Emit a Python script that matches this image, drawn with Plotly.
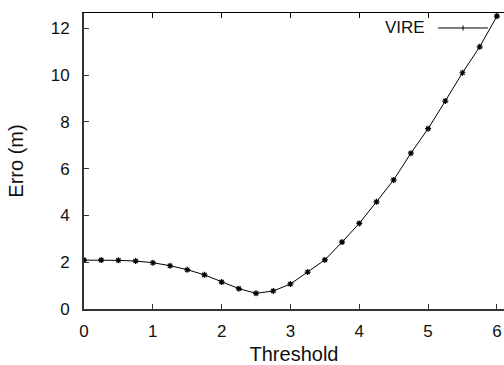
import plotly.graph_objects as go

threshold = [0, 0.25, 0.5, 0.75, 1, 1.25, 1.5, 1.75, 2, 2.25, 2.5, 2.75, 3,
             3.25, 3.5, 3.75, 4, 4.25, 4.5, 4.75, 5, 5.25, 5.5, 5.75, 6]
erro = [2.09, 2.09, 2.08, 2.05, 1.98, 1.85, 1.68, 1.46, 1.15, 0.87, 0.67, 0.77, 1.07,
        1.58, 2.10, 2.86, 3.66, 4.58, 5.52, 6.66, 7.71, 8.89, 10.10, 11.21, 12.52]
series_name = "VIRE"
x_ticks = [0, 1, 2, 3, 4, 5, 6]
y_ticks = [0, 2, 4, 6, 8, 10, 12]

W, H = 504, 365
ML, MR, MT, MB = 83.5, 0, 13, 55.5
XR = [0, 6.103]
YR = [0, 12.655]
FONT = "Liberation Sans, Arial, sans-serif"
FS = 17

fig = go.Figure()
fig.add_trace(go.Scatter(
    x=threshold, y=erro, mode="lines+markers", name=series_name,
    line=dict(color="black", width=1),
    marker=dict(symbol="asterisk-open", size=5, color="black",
                line=dict(color="black", width=1.2)),
    showlegend=False,
))

fig.update_layout(
    width=W, height=H,
    margin=dict(l=ML, r=MR, t=MT, b=MB, pad=0),
    paper_bgcolor="white", plot_bgcolor="white",
    font=dict(family=FONT, size=FS, color="#111"),
    xaxis=dict(range=XR, tickvals=x_ticks, ticks="inside", ticklen=5,
               tickcolor="#333", showline=True, linecolor="#333", linewidth=2,
               showgrid=False, zeroline=False, ticklabelstandoff=6,
               title=dict(text="Threshold", standoff=9)),
    xaxis2=dict(range=XR, overlaying="x", side="top", tickvals=x_ticks,
                ticks="inside", ticklen=5, tickcolor="black",
                showticklabels=False, showline=True, linecolor="black",
                linewidth=1.2, showgrid=False, zeroline=False),
    yaxis=dict(range=YR, tickvals=y_ticks, ticks="inside", ticklen=5,
               tickcolor="#333", showline=True, linecolor="#333", linewidth=2,
               showgrid=False, zeroline=False, ticklabelstandoff=9,
               title=dict(text="Erro (m)", standoff=22)),
)
# invisible trace to activate top axis
fig.add_trace(go.Scatter(x=[XR[0]], y=[None], xaxis="x2", showlegend=False,
                         hoverinfo="skip"))

# gnuplot-style key: text then sample line with a point
pw, ph = W - ML - MR, H - MT - MB
ky = 1 - (28 - MT) / ph
fig.add_annotation(xref="paper", yref="paper", x=(427 - ML) / pw,
                   y=ky, text=series_name,
                   showarrow=False, xanchor="right", yanchor="middle",
                   font=dict(size=17, family=FONT, color="#111"))
fig.add_shape(type="line", xref="paper", yref="paper",
              x0=(438 - ML) / pw, x1=(488 - ML) / pw,
              y0=ky, y1=ky, line=dict(color="black", width=1))
fig.add_shape(type="line", xref="paper", yref="paper",
              x0=(463 - ML) / pw, x1=(463 - ML) / pw,
              y0=ky - 2.5 / ph, y1=ky + 2.5 / ph,
              line=dict(color="black", width=1))

fig.write_html("out.html")
